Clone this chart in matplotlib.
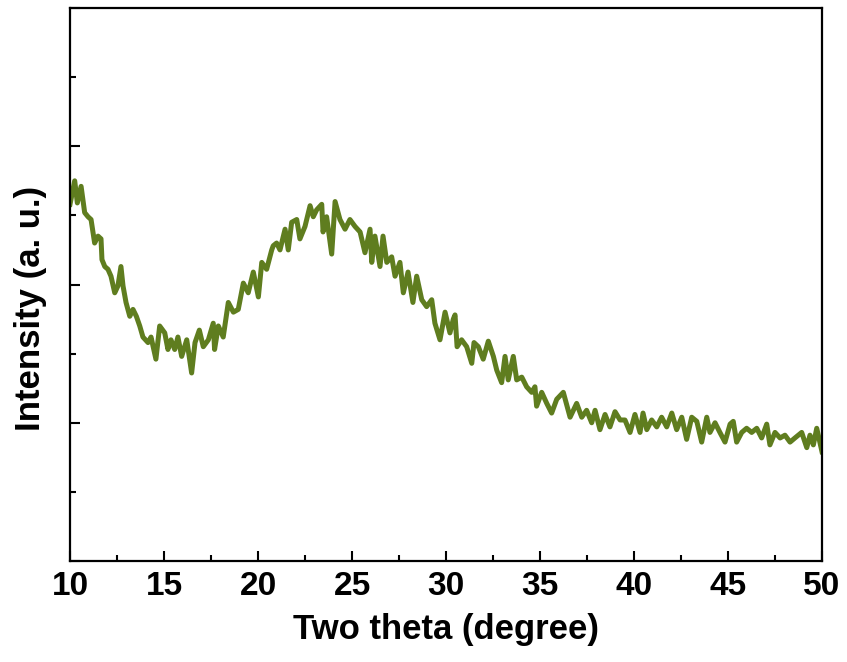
import matplotlib
matplotlib.use("Agg")
import matplotlib.pyplot as plt
from matplotlib.ticker import MultipleLocator, NullFormatter

# XRD pattern (two theta in degree, intensity in a.u.)
two_theta = [
    10.00, 10.25, 10.39, 10.59, 10.78, 10.96, 11.12, 11.31, 11.49, 11.65,
    11.70, 11.85, 12.02, 12.18, 12.38, 12.55, 12.71, 12.82, 12.98, 13.18,
    13.35, 13.53, 13.71, 13.88, 14.15, 14.31, 14.57, 14.77, 15.04, 15.21,
    15.37, 15.57, 15.74, 15.94, 16.21, 16.47, 16.65, 16.88, 17.09, 17.36,
    17.62, 17.69, 17.89, 18.15, 18.42, 18.69, 18.95, 19.22, 19.48, 19.75,
    20.02, 20.20, 20.46, 20.73, 20.81, 20.99, 21.17, 21.44, 21.61, 21.79,
    22.06, 22.23, 22.50, 22.77, 22.94, 23.12, 23.39, 23.46, 23.65, 23.92,
    24.10, 24.36, 24.63, 24.89, 25.16, 25.43, 25.69, 25.96, 26.05, 26.22,
    26.49, 26.65, 26.85, 27.11, 27.29, 27.55, 27.73, 27.98, 28.24, 28.44,
    28.71, 28.97, 29.24, 29.41, 29.68, 29.95, 30.21, 30.39, 30.48, 30.59,
    30.83, 31.10, 31.37, 31.49, 31.72, 31.98, 32.25, 32.52, 32.70, 32.96,
    33.14, 33.31, 33.58, 33.76, 34.03, 34.29, 34.56, 34.73, 34.82, 35.09,
    35.36, 35.62, 35.89, 36.24, 36.60, 36.95, 37.22, 37.48, 37.75, 37.93,
    38.19, 38.46, 38.72, 38.99, 39.26, 39.52, 39.79, 40.05, 40.32, 40.48,
    40.68, 40.94, 41.21, 41.47, 41.74, 42.01, 42.27, 42.54, 42.80, 43.07,
    43.34, 43.60, 43.87, 44.04, 44.31, 44.57, 44.84, 45.11, 45.28, 45.46,
    45.73, 45.99, 46.26, 46.53, 46.79, 47.06, 47.23, 47.50, 47.77, 48.03,
    48.30, 48.56, 48.92, 49.19, 49.36, 49.54, 49.72, 50.00,
]
intensity = [
    258, 275, 259, 271, 252, 249, 247, 230, 235, 233,
    218, 213, 211, 206, 194, 199, 213, 199, 187, 177,
    182, 177, 170, 162, 158, 162, 146, 170, 165, 153,
    160, 153, 162, 148, 160, 136, 158, 167, 155, 160,
    172, 153, 170, 162, 187, 180, 182, 201, 194, 209,
    191, 216, 211, 225, 228, 230, 225, 240, 225, 245,
    247, 233, 242, 257, 249, 254, 258, 238, 249, 222,
    260, 247, 240, 247, 242, 238, 223, 240, 216, 235,
    213, 235, 216, 220, 206, 216, 194, 209, 187, 206,
    189, 184, 189, 172, 160, 180, 165, 175, 178, 155,
    160, 155, 143, 158, 155, 146, 159, 148, 138, 129,
    148, 131, 148, 131, 133, 126, 122, 126, 112, 122,
    114, 107, 117, 122, 104, 114, 104, 109, 100, 109,
    95, 106, 97, 108, 102, 102, 93, 106, 93, 107,
    95, 102, 97, 104, 97, 107, 95, 104, 88, 104,
    101, 86, 104, 93, 100, 93, 86, 99, 101, 86,
    93, 96, 93, 96, 89, 99, 84, 93, 89, 91,
    86, 89, 93, 82, 91, 84, 96, 79,
]

line_color = "#5f7d1f"

plt.rcParams['font.family'] = ['Liberation Sans', 'DejaVu Sans']

fig = plt.figure(figsize=(8.47, 6.62), dpi=100)
ax = fig.add_axes([70 / 847, 1 - 561 / 662, 752 / 847, 553 / 662])

ax.plot(two_theta, intensity, color=line_color, lw=3.6, solid_joinstyle='round')

ax.set_xlim(10, 50)
ax.set_ylim(0, 400)

ax.xaxis.set_major_locator(MultipleLocator(5))
ax.xaxis.set_minor_locator(MultipleLocator(2.5))
ax.yaxis.set_major_locator(MultipleLocator(100))
ax.yaxis.set_minor_locator(MultipleLocator(50))
ax.yaxis.set_major_formatter(NullFormatter())

ax.tick_params(which='both', direction='in', width=1.5, top=False, right=False)
ax.tick_params(which='major', length=7)
ax.tick_params(which='minor', length=4)
ax.tick_params(axis='x', labelsize=24, pad=7)
for lbl in ax.get_xticklabels():
    lbl.set_fontweight('bold')

for sp in ax.spines.values():
    sp.set_linewidth(1.6)

ax.set_xlabel("Two theta (degree)", fontsize=25, fontweight='bold', labelpad=8)
ax.set_ylabel("Intensity (a. u.)", fontsize=25, fontweight='bold')
# label sits a bit below the axis centre in the reference
ax.yaxis.set_label_coords(-0.030, 0.457)

fig.savefig("out.png", dpi=100)
